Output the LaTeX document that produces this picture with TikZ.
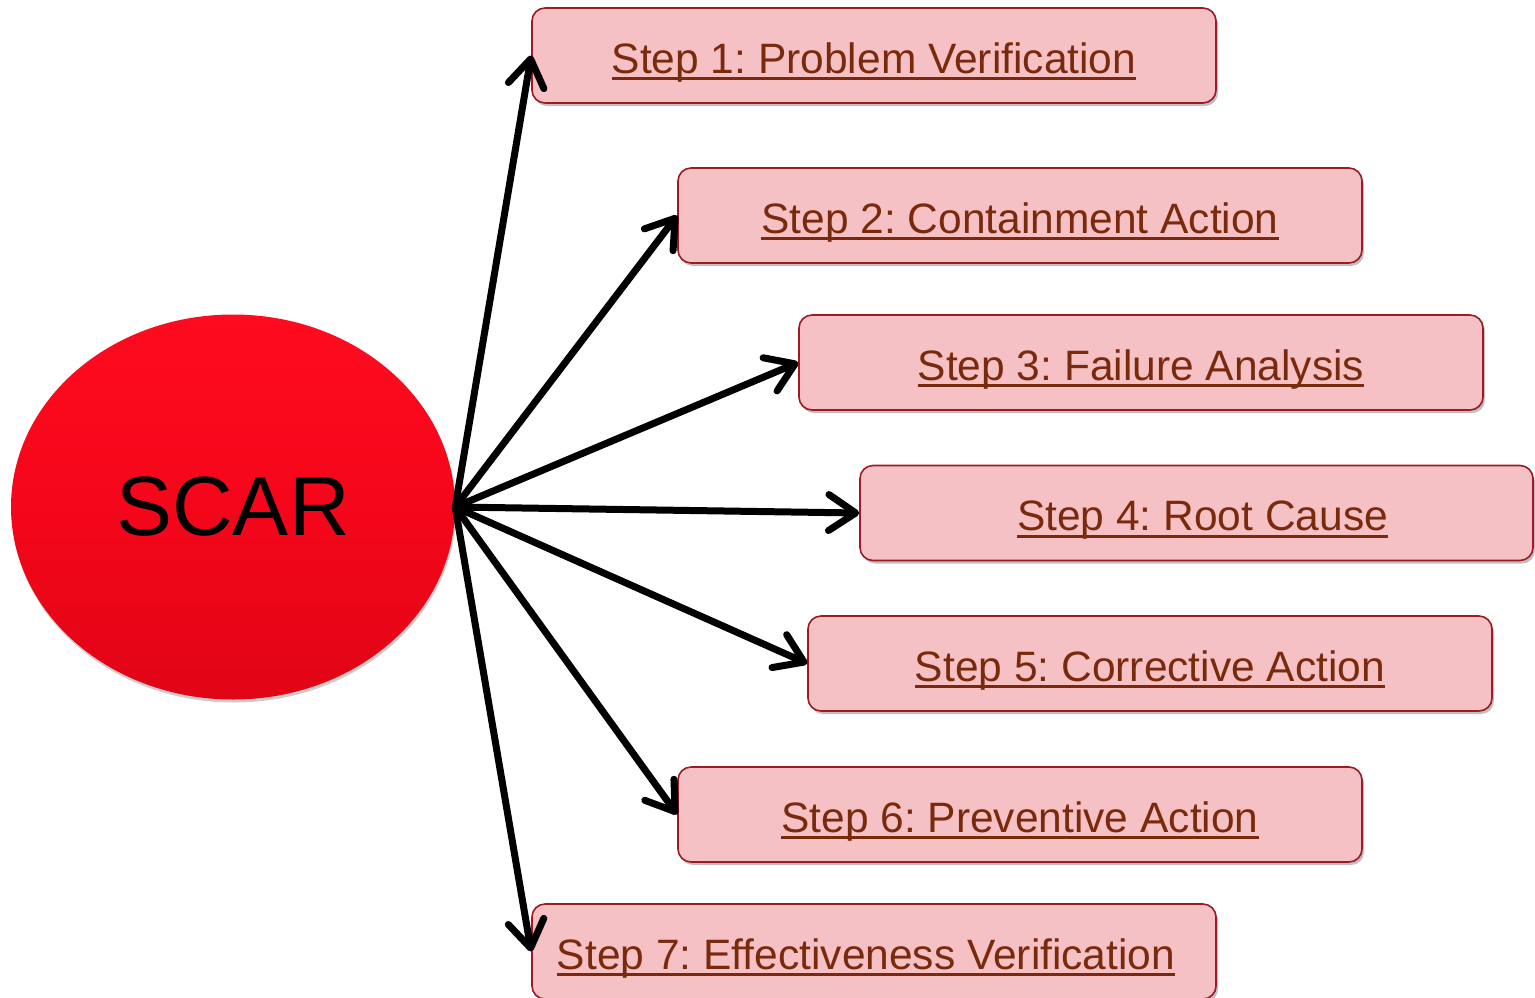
\documentclass[tikz,border=0pt]{standalone}
\usepackage{fontspec}
\setmainfont{Liberation Sans}
\usetikzlibrary{arrows.meta,shapes.geometric,shadows}
\definecolor{boxfill}{HTML}{F6C1C4}
\definecolor{boxline}{HTML}{9C1B24}
\definecolor{boxtext}{HTML}{7A2A0C}
\definecolor{redtop}{HTML}{FF0B1F}
\definecolor{redmid}{HTML}{F5061A}
\definecolor{redbot}{HTML}{E00515}
\frenchspacing
\newcommand\myul[1]{\setbox0\hbox{#1}\rlap{\rule[-7pt]{\wd0}{2.6pt}}\box0}
\tikzset{
  stepbox/.style={draw=boxline, line width=1.6pt, fill=boxfill, rounded corners=13pt,
    minimum height=95pt, inner sep=0pt, text=boxtext, text height=40pt, text depth=5pt,
    font=\fontsize{42.5}{46}\selectfont,
    drop shadow={shadow xshift=2pt, shadow yshift=-3pt, opacity=0.25, fill=black}},
  hub/.style={ellipse, minimum width=444pt, minimum height=385pt, inner sep=0pt,
    top color=redtop, bottom color=redbot, middle color=redmid,
    font=\fontsize{84}{90}\selectfont,
    drop shadow={shadow xshift=1pt, shadow yshift=-3pt, opacity=0.2, fill=black}},
  link/.style={line width=7pt, -{Straight Barb[length=27pt,width=36pt,round]},
    preaction={draw=black, opacity=0.12, transform canvas={xshift=1.5pt,yshift=-2.5pt}}}
}
\begin{document}
\begin{tikzpicture}[x=1pt,y=-1pt]
\useasboundingbox (0,0) rectangle (1535,997);
\node[hub] (scar) at (233,507) {SCAR};
\node[stepbox, minimum width=684pt] (s1) at (874,55.5) {\myul{Step 1: Problem Verification}};
\node[stepbox, minimum width=684pt] (s2) at (1020,215.5) {\myul{Step 2: Containment Action}};
\node[stepbox, minimum width=684pt] (s3) at (1141,362.5) {\myul{Step 3: Failure Analysis}};
\node[stepbox, minimum width=673pt] (s4) at (1196.5,513) {\hspace*{12pt}\myul{Step 4: Root Cause}};
\node[stepbox, minimum width=684pt] (s5) at (1150,663.5) {\myul{Step 5: Corrective Action}};
\node[stepbox, minimum width=684pt] (s6) at (1020,814.5) {\myul{Step 6: Preventive Action}};
\node[stepbox, minimum width=684pt] (s7) at (874,951.5) {\myul{Step 7: Effectiveness Verification}\hspace*{16pt}};
\foreach \s in {s1,s2,s3,s4,s5,s6,s7}
  \draw[link] (scar.east) -- (\s.west);
\end{tikzpicture}
\end{document}
